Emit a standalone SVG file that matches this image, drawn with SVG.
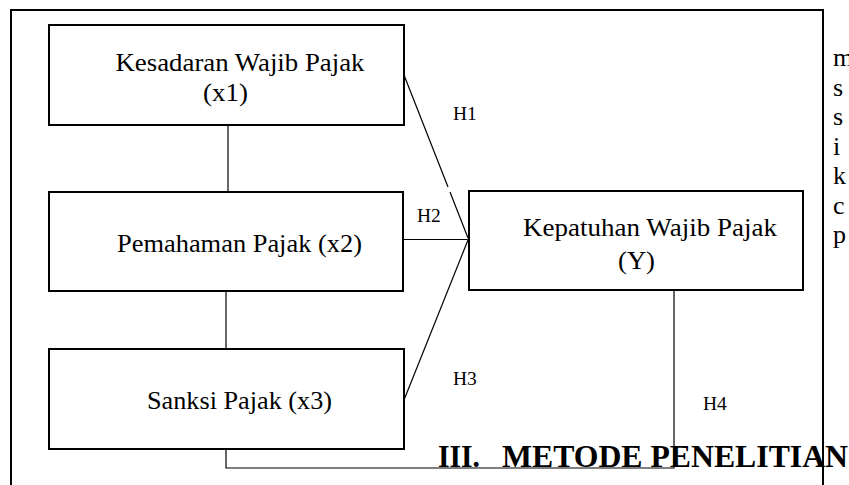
<svg xmlns="http://www.w3.org/2000/svg" width="849" height="485" viewBox="0 0 849 485">
<style>
.box{fill:#fff;stroke:#000;stroke-width:2}
.frame{fill:none;stroke:#000;stroke-width:2}
.conn{fill:none;stroke:#000;stroke-width:1.2}
text{font-family:'Liberation Serif','Times New Roman',serif;fill:#000}
.t{font-size:26px}
.h{font-size:19.5px}
.hd{font-size:32px;font-weight:bold}
</style>
<rect width="849" height="485" fill="#fff"/>
<path class="frame" d="M11,486 V10 H823 V486"/>
<g id="connectors">
<line class="conn" x1="228" y1="125" x2="228" y2="192"/>
<line class="conn" x1="226" y1="285" x2="226" y2="349"/>
<line class="conn" x1="404" y1="75" x2="448" y2="187"/>
<line class="conn" x1="450" y1="192" x2="468" y2="238"/>
<line class="conn" x1="403" y1="239.5" x2="469" y2="239.5"/>
<line class="conn" x1="468" y1="240" x2="404" y2="400"/>
<path class="conn" d="M226,449 V468 H674 V290"/>
</g>
<g id="x1">
<rect class="box" x="49" y="25" width="355" height="100"/>
<text class="t" x="115.5" y="71" textLength="249" lengthAdjust="spacingAndGlyphs">Kesadaran Wajib Pajak</text>
<text class="t" x="203" y="101" textLength="45" lengthAdjust="spacingAndGlyphs">(x1)</text>
</g>
<g id="x2">
<rect class="box" x="49" y="192" width="354" height="99"/>
<text class="t" x="117" y="252" textLength="245" lengthAdjust="spacingAndGlyphs">Pemahaman Pajak (x2)</text>
</g>
<g id="x3">
<rect class="box" x="49" y="349" width="355" height="100"/>
<text class="t" x="147" y="409" textLength="185" lengthAdjust="spacingAndGlyphs">Sanksi Pajak (x3)</text>
</g>
<g id="y">
<rect class="box" x="469" y="191" width="334" height="99"/>
<text class="t" x="523" y="236" textLength="254" lengthAdjust="spacingAndGlyphs">Kepatuhan Wajib Pajak</text>
<text class="t" x="618" y="269" textLength="37" lengthAdjust="spacingAndGlyphs">(Y)</text>
</g>
<g id="labels">
<text class="h" x="453" y="120">H1</text>
<text class="h" x="417" y="222">H2</text>
<text class="h" x="453" y="385">H3</text>
<text class="h" x="703" y="410">H4</text>
</g>
<g id="heading">
<text class="hd" x="438" y="467" textLength="42" lengthAdjust="spacingAndGlyphs">III.</text>
<text class="hd" x="502" y="467" textLength="346" lengthAdjust="spacingAndGlyphs">METODE PENELITIAN</text>
</g>
<g id="sidetext">
<text class="t" x="833" y="66">m</text>
<text class="t" x="833" y="95.5">s</text>
<text class="t" x="833" y="125">s</text>
<text class="t" x="833" y="154.5">i</text>
<text class="t" x="833" y="184">k</text>
<text class="t" x="833" y="213.5">c</text>
<text class="t" x="833" y="243">p</text>
</g>
</svg>
